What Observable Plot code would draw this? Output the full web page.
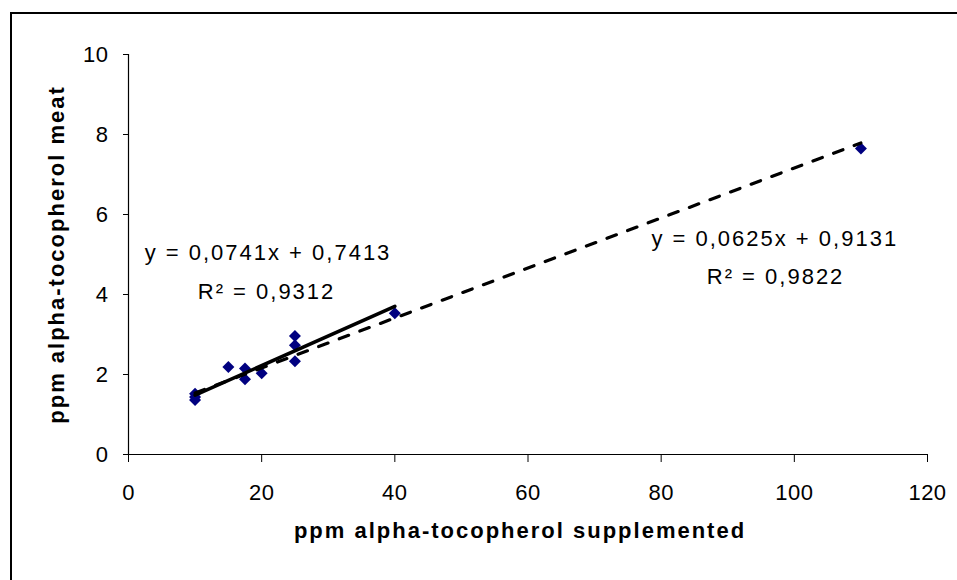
<!DOCTYPE html>
<html><head><meta charset="utf-8">
<script src="https://cdn.jsdelivr.net/npm/d3@7"></script>
<script src="https://cdn.jsdelivr.net/npm/@observablehq/plot@0.6"></script>
<style>
html,body{margin:0;padding:0;background:#fff;}
#wrap{position:relative;width:957px;height:580px;overflow:hidden;background:#fff;}
#frame{position:absolute;left:10px;top:12px;width:1200px;height:1200px;border:2px solid #000;box-sizing:border-box;}
#chart{position:absolute;left:0;top:0;}
</style></head><body>
<div id="wrap"><div id="frame"></div><div id="chart"></div></div>
<script>
// ---- data ----
const supplemented = [10, 10, 10, 15, 17.5, 17.5, 20, 25, 25, 25, 40, 110];
const meat = [1.36, 1.44, 1.52, 2.19, 2.15, 1.88, 2.03, 2.96, 2.73, 2.33, 3.53, 7.65];
const xTicks = [0, 20, 40, 60, 80, 100, 120];
const yTicks = [0, 2, 4, 6, 8, 10];
const trendNames = ["up to 40 ppm", "all"];
const trendSlopes = [0.0741, 0.0625];
const trendIntercepts = [0.7413, 0.9131];
const trendFrom = [10, 10];
const trendTo = [40, 110];
const eqLabels = ["y = 0,0741x + 0,7413", "R² = 0,9312", "y = 0,0625x + 0,9131", "R² = 0,9822"];
const xTitle = "ppm alpha-tocopherol supplemented";
const yTitle = "ppm alpha-tocopherol meat";

// ---- derived tables ----
const points = supplemented.map((x, i) => ({x, y: meat[i]}));
const trendLine = i => [trendFrom[i], trendTo[i]].map(x => ({x, y: trendSlopes[i] * x + trendIntercepts[i]}));

const chart = Plot.plot({
  width: 957,
  height: 580,
  marginLeft: 128,
  marginRight: 30,
  marginTop: 54,
  marginBottom: 126,
  style: {fontFamily: "'Liberation Sans', Arial, sans-serif", fontSize: "22px", background: "transparent", color: "#000", overflow: "visible"},
  x: {domain: [0, 120]},
  y: {domain: [0, 10]},
  marks: [
    Plot.axisX({ticks: xTicks, tickSize: 8, tickPadding: 22, tickFormat: d => String(d), label: null}),
    Plot.axisY({ticks: yTicks, tickSize: 5, tickPadding: 15, tickFormat: d => String(d), label: null}),
    Plot.ruleX([0], {y1: 0, y2: 10, stroke: "#000", strokeWidth: 1.2}),
    Plot.ruleY([0], {x1: 0, x2: 120, stroke: "#000", strokeWidth: 1.2}),
    Plot.dot(points, {x: "x", y: "y", symbol: "diamond2", r: 5.4, fill: "#000080"}),
    Plot.line(trendLine(1), {x: "x", y: "y", stroke: "#000", strokeWidth: 3.2, strokeDasharray: "10,12"}),
    Plot.line(trendLine(0), {x: "x", y: "y", stroke: "#000", strokeWidth: 3.5}),
    Plot.text([eqLabels[0]], {x: () => 20.95, y: () => 5.03, text: d => d, fill: "#000"}),
    Plot.text([eqLabels[1]], {x: () => 20.73, y: () => 4.075, text: d => d, fill: "#000"}),
    Plot.text([eqLabels[2]], {x: () => 97.06, y: () => 5.38, text: d => d, fill: "#000"}),
    Plot.text([eqLabels[3]], {x: () => 97.18, y: () => 4.45, text: d => d, fill: "#000"}),
    Plot.text([xTitle], {frameAnchor: "bottom", dy: 83, dx: -8, text: d => d, fontWeight: "bold", fill: "#000"}),
    Plot.text([yTitle], {frameAnchor: "left", textAnchor: "middle", dx: -72, rotate: -90, text: d => d, fontWeight: "bold", fill: "#000"})
  ]
});
document.getElementById("chart").appendChild(chart);
const s = d3.select(chart);
s.selectAll("text").style("letter-spacing", "2px");
s.selectAll('g[aria-label$="tick label"] text').style("letter-spacing", "0.5px");
</script>
</body></html>
